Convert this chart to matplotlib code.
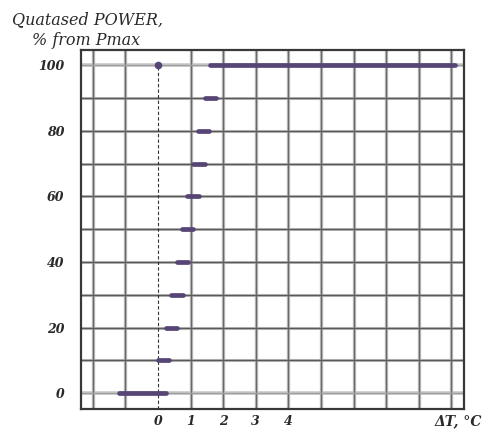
import matplotlib
matplotlib.use("Agg")
import matplotlib.pyplot as plt

# Data: horizontal step segments (power level, start dT, end dT)
power_levels = [0, 10, 20, 30, 40, 50, 60, 70, 80, 90, 100]
seg_start = [-1.2, 0.0, 0.24, 0.41, 0.58, 0.73, 0.90, 1.08, 1.24, 1.43, 1.60]
seg_end = [0.25, 0.33, 0.57, 0.76, 0.91, 1.08, 1.26, 1.43, 1.57, 1.77, 9.12]
dot_x = [0]
dot_y = [100]

y_ticks = [0, 20, 40, 60, 80, 100]
x_ticks = [0, 1, 2, 3, 4]
x_grid = list(range(-2, 10))
y_grid = list(range(0, 101, 10))

title_line1 = "Quatased POWER,"
title_line2 = "% from Pmax"
x_label = "ΔT, °C"

purple = "#564575"
font = dict(family="DejaVu Serif", style="italic")

fig = plt.figure(figsize=(4.86, 4.30), dpi=100)
ax = fig.add_axes([81 / 486, 21 / 430, (464 - 81) / 486, (409 - 50) / 430])
ax.set_xlim(-2.36, 9.39)
ax.set_ylim(-4.8, 104.6)

# grid
for gx in x_grid:
    if gx == 0:
        ax.plot([0, 0], [-4.8, 100], color="#333333", lw=0.8, ls=(0, (3, 2)), zorder=2)
    else:
        ax.axvline(gx, color="#c2c2c2", lw=2.4, zorder=1)
        ax.axvline(gx, color="#6a6a6a", lw=1.0, zorder=1.1)
for gy in y_grid:
    if gy in (0, 100):
        ax.axhline(gy, color="#c8c8c8", lw=2.6, zorder=1)
        ax.axhline(gy, color="#a0a0a0", lw=1.0, zorder=1.1)
    else:
        ax.axhline(gy, color="#c0c0c0", lw=2.2, zorder=1)
        ax.axhline(gy, color="#5a5a5a", lw=1.0, zorder=1.1)

# segments
for y, x0, x1 in zip(power_levels, seg_start, seg_end):
    ax.plot([x0, x1], [y, y], color=purple, lw=3.4, solid_capstyle="round", zorder=3)
ax.plot(dot_x, dot_y, "o", color=purple, ms=4.5, zorder=3)

for s in ax.spines.values():
    s.set_color("#383838")
    s.set_linewidth(1.6)

ax.set_xticks(x_ticks)
ax.set_yticks(y_ticks)
ax.tick_params(length=0)
ax.set_xticklabels([str(t) for t in x_ticks], fontsize=9, fontweight="bold", **font, color="#2a2a2a")
ax.set_yticklabels([str(t) for t in y_ticks], fontsize=9, fontweight="bold", **font, color="#2a2a2a")
ax.tick_params(axis="x", pad=4)
ax.tick_params(axis="y", pad=12)

fig.text(12 / 486, 1 - 24 / 430, title_line1, fontsize=11.5, **font, color="#2a2a2a")
fig.text(32 / 486, 1 - 45 / 430, title_line2, fontsize=11.5, **font, color="#2a2a2a")
fig.text(482 / 486, 1 - 425 / 430, x_label, fontsize=10, fontweight="bold", ha="right", **font, color="#2a2a2a")

fig.savefig("out.png", dpi=100)
